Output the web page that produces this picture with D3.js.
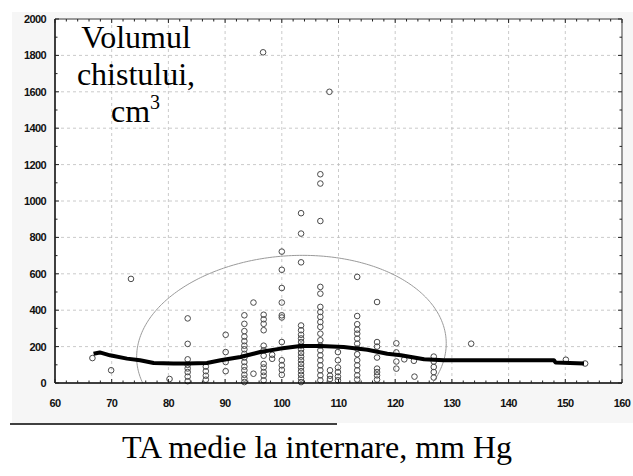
<!DOCTYPE html>
<html><head><meta charset="utf-8">
<script src="https://cdn.jsdelivr.net/npm/d3@7"></script>
<style>body{margin:0;background:#fff}svg{display:block}</style>
</head><body>
<svg id="c" width="633" height="476"></svg>
<script>
// ---- data ----
const xTicks = [60,70,80,90,100,110,120,130,140,150,160];
const yTicks = [0,200,400,600,800,1000,1200,1400,1600,1800,2000];
// scatter: x positions of columns and the volumes measured at each
const colX = [66.6,69.9,73.4,80.2,83.4,86.6,90.1,93.4,95.0,96.8,96.7,98.3,100.0,103.4,106.8,108.4,108.5,109.9,113.3,116.8,120.2,121.6,123.3,123.4,126.8,133.4,150.1,153.5];
const colY = [
  [137],[70],[572],[22],
  [355,215,130,100,80,60,35,10],
  [90,65,40,18],
  [265,170,115,65],
  [372,325,285,255,230,205,185,160,140,115,90,70,45,25,5],
  [442,51],
  [375,350,325,290,205,180,150,105,85,60,40,15],
  [1817],
  [133,155],
  [722,622,522,442,372,360,225,125,97,72,45],
  [933,821,663,316,290,265,245,225,205,185,165,145,125,105,85,65,45,25,5],
  [1147,1096,890,528,491,418,390,363,335,308,271,235,205,180,152,125,97,70,42,15],
  [1600],
  [70,40,22],
  [170,125,85,60,35,15],
  [583,368,323,293,271,244,216,189,158,125,97,70,42,19],
  [445,225,200,140,79,60,42,19],
  [218,168,118,79],
  [130],[122],[35],
  [145,118,88,60,30],
  [216],[128],[107]
];
// smoothed (lowess) curve
const fitX = [66.8,67.9,69.7,72.7,75.0,77.4,80.9,83.3,86.8,89.2,92.7,96.2,99.8,103.3,106.8,110.9,115.1,118.6,121.0,125.1,128.6,148.0,148.3,153.3];
const fitY = [161,168,152,134,125,110,107,107,110,125,143,170,189,203,203,198,183,161,152,130,125,125,112,107];
// confidence ellipse: centre x, centre y, x semi-axis, y semi-axis, shear
const ellipse = [101.7,180,27.3,520,37.5];

// ---- chart ----
const svg = d3.select("#c");
const L=55,R=622,T=19,B=383;
const x = d3.scaleLinear([60,160],[L,R]);
const y = d3.scaleLinear([0,2000],[B,T]);

svg.append("rect").attr("x",12).attr("y",12).attr("width",621).attr("height",411).attr("fill","#f6f6f6");
svg.append("rect").attr("x",L).attr("y",T).attr("width",R-L).attr("height",B-T).attr("fill","#fff");
svg.append("line").attr("x1",10).attr("x2",337).attr("y1",424).attr("y2",424).attr("stroke","#000").attr("stroke-width",1.5);

svg.append("clipPath").attr("id","clip").append("rect").attr("x",L).attr("y",T).attr("width",R-L).attr("height",B-T);

// grid
const grid = svg.append("g").attr("stroke","#bdbdbd").attr("stroke-width",0.8).attr("stroke-dasharray","3,3");
xTicks.slice(1,-1).forEach(v=>grid.append("line").attr("x1",x(v)).attr("x2",x(v)).attr("y1",T).attr("y2",B));
yTicks.slice(1,-1).forEach(v=>grid.append("line").attr("x1",L).attr("x2",R).attr("y1",y(v)).attr("y2",y(v)));

// ellipse
const ts = d3.range(0,2*Math.PI+0.001,Math.PI/180);
const [ecx,ecy,ea,eb,ec] = ellipse;
svg.append("path").attr("clip-path","url(#clip)")
  .datum(ts.map(t=>[ecx+ea*Math.cos(t), ecy+ec*Math.cos(t)+eb*Math.sin(t)]))
  .attr("d",d3.line().x(d=>x(d[0])).y(d=>y(d[1])))
  .attr("fill","none").attr("stroke","#9a9a9a").attr("stroke-width",1);

// points
const pts = [];
colX.forEach((cx,i)=>colY[i].forEach(v=>pts.push([cx,v])));
svg.append("g").selectAll("circle").data(pts).join("circle")
  .attr("cx",d=>x(d[0])).attr("cy",d=>y(d[1])).attr("r",2.8)
  .attr("fill","none").attr("stroke","#4a4a4a").attr("stroke-width",1);

// fit line
svg.append("path").datum(fitX.map((v,i)=>[v,fitY[i]]))
  .attr("d",d3.line().x(d=>x(d[0])).y(d=>y(d[1])))
  .attr("fill","none").attr("stroke","#000").attr("stroke-width",4).attr("stroke-linejoin","round");

// frame
svg.append("line").attr("x1",L).attr("x2",R).attr("y1",T).attr("y2",T).attr("stroke","#999").attr("stroke-width",2);
svg.append("line").attr("x1",R).attr("x2",R).attr("y1",T).attr("y2",B).attr("stroke","#999").attr("stroke-width",2);
svg.append("line").attr("x1",L).attr("x2",R).attr("y1",B).attr("y2",B).attr("stroke","#000").attr("stroke-width",1.5);
svg.append("line").attr("x1",L).attr("x2",L).attr("y1",T).attr("y2",B).attr("stroke","#000").attr("stroke-width",1.5);

// ticks (inward)
const tk = svg.append("g").attr("stroke","#222").attr("stroke-width",1);
d3.range(60,160.1,2).forEach(v=>{
  const len = v%10===0?4:2.5;
  tk.append("line").attr("x1",x(v)).attr("x2",x(v)).attr("y1",B).attr("y2",B-len);
  tk.append("line").attr("x1",x(v)).attr("x2",x(v)).attr("y1",T).attr("y2",T+len);
});
d3.range(0,2000.1,100).forEach(v=>{
  const len = v%200===0?4:2.5;
  tk.append("line").attr("x1",L).attr("x2",L+len).attr("y1",y(v)).attr("y2",y(v));
  tk.append("line").attr("x1",R).attr("x2",R-len).attr("y1",y(v)).attr("y2",y(v));
});

// tick labels
const lab = svg.append("g").attr("font-family","Liberation Sans, Arial, sans-serif").attr("font-weight","bold").attr("font-size","11px").attr("fill","#111");
yTicks.forEach(v=>lab.append("text").attr("x",46).attr("y",y(v)).attr("dy","0.36em").attr("text-anchor","end").attr("letter-spacing","-0.6").text(v));
xTicks.forEach(v=>lab.append("text").attr("x",x(v)).attr("y",407).attr("text-anchor","middle").attr("letter-spacing","-0.6").text(v));

// axis titles
const serif = "Liberation Serif, Times New Roman, serif";
const yt = svg.append("text").attr("font-family",serif).attr("font-size","32px").attr("fill","#000").attr("text-anchor","middle");
yt.append("tspan").attr("x",136).attr("y",48).text("Volumul");
yt.append("tspan").attr("x",136).attr("y",85).text("chistului,");
const cm = svg.append("text").attr("font-family",serif).attr("font-size","32px").attr("fill","#000").attr("x",111).attr("y",122);
cm.append("tspan").text("cm");
cm.append("tspan").attr("font-size","20px").attr("dy","-13").text("3");

svg.append("text").attr("font-family",serif).attr("font-size","32px").attr("fill","#000").attr("text-anchor","middle")
  .attr("x",317).attr("y",458).text("TA medie la internare, mm Hg");
</script>
</body></html>
